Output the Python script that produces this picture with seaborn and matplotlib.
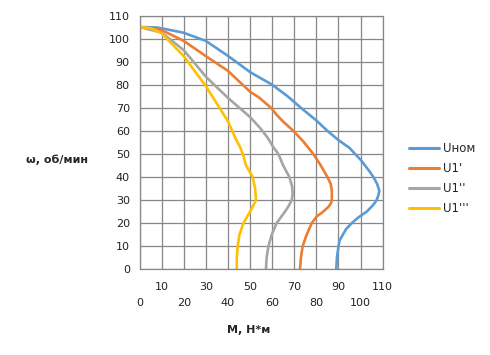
import matplotlib
matplotlib.use("Agg")
import matplotlib.pyplot as plt
import seaborn as sns
import pandas as pd

# torque M (N*m) vs speed w (rpm)
m_nom = [0, 8, 15, 20, 30, 40, 50, 54.5, 60, 67, 73, 80, 85, 90, 95, 97.5,
         100, 102, 104, 105.8, 107.5, 108.5, 108, 107.3, 105.8, 102.8, 99,
         96, 93.5, 92, 90.5, 90, 89.3, 89]
w_nom = [105, 104.8, 103.5, 102.5, 99, 92.5, 85.5, 83, 80, 75, 70, 64.5, 60,
         56, 52.6, 50, 47.5, 45, 42.5, 40, 37, 34, 32, 30, 28, 25, 22.5,
         20, 17.5, 15, 12.5, 10, 5, 0]

m_1 = [0, 10, 20, 30, 40, 50, 54, 59.5, 62, 65, 69.6, 74, 78.6, 82, 85,
       86.5, 87, 87, 86.5, 85.4, 82.5, 80.2, 77.9, 75.6, 73.8, 73, 72.6]
w_1 = [105, 103.7, 99, 92.4, 86, 77, 74.5, 70, 67, 64, 60, 55.5, 50, 45, 40,
       37, 34, 30, 28.5, 27, 24.5, 23, 20, 15, 10, 5, 0]

m_2 = [0, 10, 20, 30, 40, 50, 54.5, 58, 60.5, 62.8, 65, 67.8, 69, 69.3,
       68.9, 67.5, 65.8, 62, 59.8, 58.3, 57.5, 57.2]
w_2 = [105, 102.6, 95, 83.5, 74.3, 66, 61.3, 57, 53, 50, 45, 40, 36, 33,
       30, 27.5, 25, 20, 15, 10, 5, 0]

m_3 = [0, 5, 10, 20, 30, 40, 43.7, 45.5, 46.7, 48.2, 51.2, 52.3, 52.7, 50,
       47, 45.2, 44.4, 44, 44]
w_3 = [105, 104.5, 102.3, 92.4, 79.4, 64.2, 56.2, 53, 50, 45, 40, 35, 30,
       25, 20, 15, 10, 5, 0]

labels = ["Uном", "U1'", "U1''", "U1'''"]
colors = ["#5B9BD5", "#ED7D31", "#A5A5A5", "#FFC000"]

frames = []
for name, m, w in zip(labels, [m_nom, m_1, m_2, m_3], [w_nom, w_1, w_2, w_3]):
    frames.append(pd.DataFrame({"M": m, "w": w, "series": name}))
df = pd.concat(frames, ignore_index=True)

sns.set_style("white")
plt.rcParams["font.family"] = ["DejaVu Sans"]

fig = plt.figure(figsize=(4.9, 3.55), dpi=100)
ax = fig.add_axes([0.2847, 0.2414, 0.4963, 0.7149])

sns.lineplot(data=df, x="M", y="w", hue="series", palette=colors,
             sort=False, estimator=None, linewidth=1.9, ax=ax, legend=False)

grid_c = "#878787"
ax.set_xlim(0, 110)
ax.set_ylim(0, 110)
# staggered x labels: odd tens on the upper row, even tens below
ax.set_xticks(range(0, 111, 20))
ax.set_xticks(range(10, 111, 20), minor=True)
ax.set_xticklabels([str(v) for v in range(0, 111, 20)])
ax.set_xticklabels([str(v) for v in range(10, 111, 20)], minor=True)
ax.set_yticks(range(0, 111, 10))
ax.tick_params(axis="x", which="major", length=4, width=0.9, color=grid_c,
               pad=16.5, labelsize=8, labelcolor="#222222")
ax.tick_params(axis="x", which="minor", length=4, width=0.9, color=grid_c,
               pad=5.5, labelsize=8, labelcolor="#222222")
ax.tick_params(axis="y", length=4, width=0.9, color=grid_c, pad=3,
               labelsize=8, labelcolor="#222222")
ax.grid(True, which="both", color=grid_c, linewidth=0.9)
for s in ax.spines.values():
    s.set_color(grid_c)
    s.set_linewidth(0.9)
ax.set_xlabel("")
ax.set_ylabel("")

fig.text(0.1157, 0.549, "ω, об/мин", ha="center", va="center",
         fontsize=8, fontweight="bold")
fig.text(0.508, 0.0704, "M, Н*м", ha="center", va="center",
         fontsize=8, fontweight="bold")

handles = [plt.Line2D([], [], color=c, linewidth=2.2) for c in colors]
fig.legend(handles, labels, loc="upper left", bbox_to_anchor=(409 / 490, 1 - 142 / 355),
           frameon=False, fontsize=8.5, handlelength=2.5, handletextpad=0.4,
           labelspacing=0.6, borderpad=0, borderaxespad=0)

fig.savefig("out.png", dpi=100)
